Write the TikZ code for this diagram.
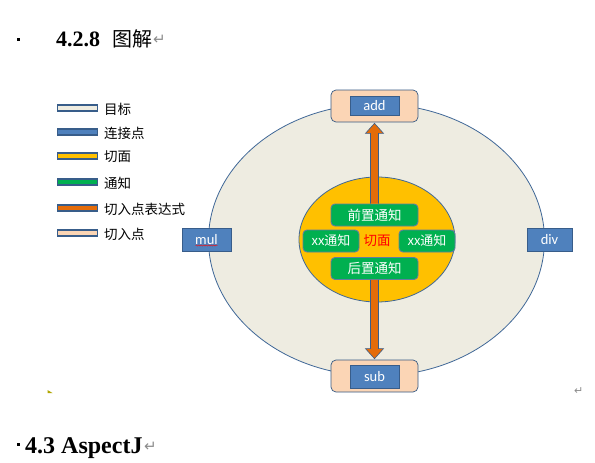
\documentclass[tikz,border=0pt]{standalone}
\usepackage{fontspec}
\setmainfont{Liberation Serif}
\newfontfamily\cjk{Noto Sans CJK SC}
\newfontfamily\carl{Carlito}
\newfontfamily\dvs{DejaVu Sans}
\usetikzlibrary{calc,decorations.pathmorphing,shapes.geometric}
\definecolor{tgt}{HTML}{EEECE1}
\definecolor{jblue}{HTML}{4F81BD}
\definecolor{bord}{HTML}{385D8A}
\definecolor{gold}{HTML}{FFC000}
\definecolor{jgreen}{HTML}{00B050}
\definecolor{jorange}{HTML}{E46C0A}
\definecolor{peach}{HTML}{FBD5B5}
\definecolor{retgray}{HTML}{8C8C8C}
\tikzset{
  legbar/.style={draw=bord,line width=1.3pt,minimum width=40pt,minimum height=6pt,inner sep=0pt},
  legtext/.style={anchor=west,font=\cjk\fontsize{13.5}{14}\selectfont,inner sep=0pt},
  jpbox/.style={draw=jblue!70!black,line width=0.7pt,fill=peach,rounded corners=5pt,minimum width=87pt,minimum height=32pt,inner sep=0pt},
  cpbox/.style={draw=bord,line width=0.8pt,fill=jblue,text=white,font=\carl\fontsize{14.5}{14}\selectfont,minimum height=22pt,inner sep=0pt},
  advbox/.style={draw=bord!80,line width=0.9pt,fill=jgreen,text=white,rounded corners=4pt,font=\cjk\fontsize{13.5}{14}\selectfont,minimum height=22pt,inner sep=0pt},
  arr/.style={fill=jorange,draw=bord,line width=0.6pt},
  ret/.style={text=retgray,inner sep=0pt,font=\dvs\fontsize{15}{15}\selectfont}
}
\begin{document}
\begin{tikzpicture}[x=1pt,y=-1pt]
\useasboundingbox[fill=white] (0,0) rectangle (595,463);
% heading 1
\fill (16.5,37.5) rectangle (20,41);
\node[anchor=base west,inner sep=0pt,font=\fontsize{22}{22}\selectfont\bfseries] (h1) at (56,46) {4.2.8};
\node[anchor=base west,inner sep=0pt,font=\cjk\fontsize{20}{20}\selectfont] (h1b) at (112,46) {图解};
\node[ret,anchor=base west] (r1) at (153,45) {↵};
% legend
\foreach \y/\c/\t [count=\i] in {108/tgt/目标,132/jblue/连接点,156/gold/切面,182/jgreen/通知,208/jorange/切入点表达式,233/peach/切入点}{
  \node[legbar,fill=\c] (lb\i) at (77.5,\y) {};
  \node[legtext] (lt\i) at (104,\y+1) {\t};
}
% big ellipse
\node[draw=jblue!80!black,line width=0.8pt,fill=tgt,ellipse,minimum width=336pt,minimum height=272pt,inner sep=0pt] (target) at (376.5,240) {};
% inner ellipse
\node[draw=jblue!80!black,line width=0.8pt,fill=gold,ellipse,minimum width=156pt,minimum height=125pt,inner sep=0pt] (aspect) at (377,239.5) {};
% advice boxes
\node[advbox,minimum width=87pt] (pre) at (374.5,215) {前置通知};
\node[advbox,minimum width=87pt] (post) at (374.5,268.5) {后置通知};
\node[advbox,minimum width=56pt,font=\cjk\fontsize{13}{13}\selectfont] (xl) at (331,241) {xx通知};
\node[advbox,minimum width=56pt,font=\cjk\fontsize{13}{13}\selectfont] (xr) at (427,241) {xx通知};
\node[text=red,inner sep=0pt,font=\cjk\fontsize{13.5}{13}\selectfont] (asp) at (377,240.5) {切面};
% join points
\node[jpbox] (addout) at (374.5,106) {};
\node[cpbox,minimum width=49pt,minimum height=19pt] (add) at (374.5,105.5) {add};
\node[jpbox] (subout) at (374.5,376) {};
\node[cpbox,minimum width=49pt,minimum height=23pt] (sub) at (374.5,376.5) {sub};
\node[cpbox,minimum width=49pt,minimum height=23pt] (mul) at (206.5,239.5) {mul};
\node[cpbox,minimum width=45pt,minimum height=23pt] (div) at (549.5,239.5) {div};
\draw[red,line width=0.4pt,decorate,decoration={snake,amplitude=0.6pt,segment length=2.5pt}] ([xshift=-11pt,yshift=-6pt]mul.center) -- ([xshift=11pt,yshift=-6pt]mul.center);
% pointcut arrows
\draw[arr] let \p1=(pre.north), \p2=(addout.south) in
  (\x1-4pt,\y1) -- (\x1-4pt,\y2-11pt) -- (\x1-9pt,\y2-11pt) -- (\x1,\y2-1pt) -- (\x1+9pt,\y2-11pt) -- (\x1+4pt,\y2-11pt) -- (\x1+4pt,\y1);
\draw[arr] let \p1=(post.south), \p2=(subout.north) in
  (\x1-4pt,\y1) -- (\x1-4pt,\y2+11pt) -- (\x1-9pt,\y2+11pt) -- (\x1,\y2+1pt) -- (\x1+9pt,\y2+11pt) -- (\x1+4pt,\y2+11pt) -- (\x1+4pt,\y1);
% misc marks
\fill[olive!70!yellow] (47.5,390) -- (52.5,393) -- (47.5,393) -- cycle;
\node[ret,anchor=base west,font=\dvs\fontsize{11}{11}\selectfont] (r2) at (574,394) {↵};
% heading 2
\fill (16.5,442.5) rectangle (20,446);
\node[anchor=base west,inner sep=0pt,font=\fontsize{24}{24}\selectfont\bfseries] (h2) at (25,453) {4.3 AspectJ};
\node[ret,anchor=base west] (r3) at (144,451) {↵};
\end{tikzpicture}
\end{document}
